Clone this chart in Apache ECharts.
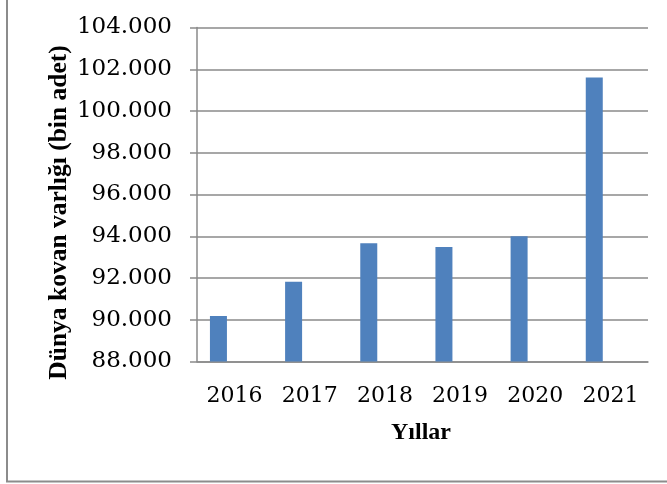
<!DOCTYPE html>
<html>
<head>
<meta charset="utf-8">
<script src="https://cdn.jsdelivr.net/npm/echarts@6/dist/echarts.min.js"></script>
<style>
html,body{margin:0;padding:0;background:#fff;}
#c{width:667px;height:484px;}
</style>
</head>
<body>
<div id="c"></div>
<script>
const categories = ['2016', '2017', '2018', '2019', '2020', '2021'];
const hiveValues = [90180, 91820, 93660, 93480, 94000, 101610];
const yAxisTitle = 'Dünya kovan varlığı (bin adet)';
const xAxisTitle = 'Yıllar';
const yMin = 88000, yMax = 104000, yStep = 2000;

function fmt(v) {
  return String(Math.round(v)).replace(/\B(?=(\d{3})+(?!\d))/g, '.');
}

const chart = echarts.init(document.getElementById('c'), null, {renderer: 'canvas'});
chart.setOption({
  animation: false,
  backgroundColor: '#ffffff',
  grid: {left: 197, right: 19, top: 27.5, bottom: 122.5, containLabel: false},
  graphic: [{
    type: 'rect',
    shape: {x: 7, y: -10, width: 700, height: 491.5},
    style: {fill: 'none', stroke: '#8c8c8c', lineWidth: 2},
    silent: true
  }, {
    type: 'text',
    x: 421, y: 433,
    style: {text: xAxisTitle, font: 'bold 24px "Liberation Serif"', fill: '#000', align: 'center', verticalAlign: 'middle'},
    silent: true
  }, {
    type: 'text',
    x: 59, y: 212.5,
    rotation: Math.PI / 2,
    style: {text: yAxisTitle, font: 'bold 25.5px "Liberation Serif"', fill: '#000', align: 'center', verticalAlign: 'middle'},
    silent: true
  }],
  xAxis: {
    type: 'category',
    data: categories,
    axisLine: {show: true, lineStyle: {color: '#8a8a8a', width: 1.5}},
    axisTick: {show: false},
    axisLabel: {
      interval: 0, hideOverlap: false,
      color: '#000', fontFamily: 'DejaVu Serif', fontSize: 22,
      margin: 35, verticalAlign: 'middle'
    }
  },
  yAxis: {
    type: 'value',
    min: yMin, max: yMax, interval: yStep,
    axisLine: {show: true, lineStyle: {color: '#8a8a8a', width: 1.5}},
    axisTick: {show: true, length: 7, lineStyle: {color: '#8a8a8a', width: 1.5}},
    splitLine: {show: true, lineStyle: {color: '#8a8a8a', width: 1.5}},
    axisLabel: {
      color: '#000', fontFamily: 'DejaVu Serif', fontSize: 23,
      margin: 25, formatter: fmt
    }
  },
  series: [{
    type: 'bar',
    data: hiveValues,
    barWidth: 17,
    barGap: '90%',
    itemStyle: {color: '#4F81BD'}
  }, {
    type: 'bar',
    data: [],
    barWidth: 17,
    barGap: '90%'
  }]
});
</script>
</body>
</html>
